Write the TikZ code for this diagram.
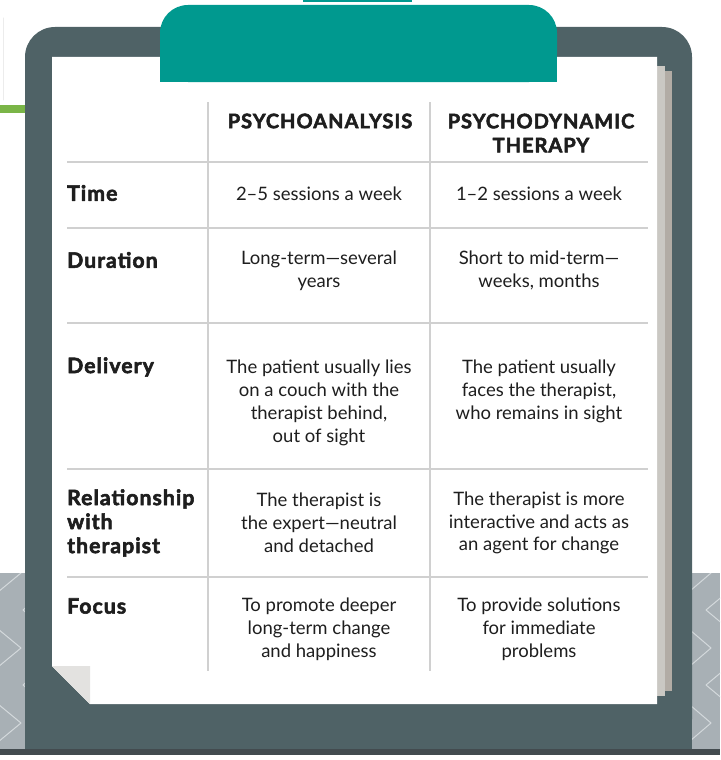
\documentclass[tikz,border=0pt]{standalone}
\usepackage{fontspec}
\setmainfont{Lato}
\newfontfamily\heavyfont[FakeBold=2.6, LetterSpace=5]{Lato}
\definecolor{boardgray}{HTML}{4F6266}
\definecolor{boardedge}{HTML}{434B4F}
\definecolor{tabteal}{HTML}{00998F}
\definecolor{bandgray}{HTML}{A8B0B5}
\definecolor{chevronline}{HTML}{D4D9DC}
\definecolor{sheetA}{HTML}{CAC8C3}
\definecolor{sheetB}{HTML}{B2ACA5}
\definecolor{foldgray}{HTML}{E3E2E0}
\definecolor{rulegray}{HTML}{D0D0D0}
\definecolor{leafgreen}{HTML}{7AB547}
\definecolor{inkblack}{HTML}{1E1E1E}
\begin{document}
\begin{tikzpicture}[x=1pt,y=-1pt, line join=round, line cap=round,
	head/.style={font=\heavyfont\bfseries\fontsize{20}{24}\selectfont, text=inkblack, align=center, inner sep=0pt},
	rowlabel/.style={font=\heavyfont\bfseries\fontsize{21.2}{24}\selectfont, text=inkblack, align=left, anchor=west, inner sep=0pt},
	cell/.style={font=\fontsize{18.5}{22.8}\selectfont, text=inkblack, align=center, inner sep=0pt},
	gridline/.style={rulegray, line width=2pt, line cap=butt}]
	\useasboundingbox (0,0) rectangle (720,760);
	
	% background bits
	\fill[tabteal] (303,0) rectangle (412,2);
	\fill[leafgreen] (0,105) rectangle (25,113);
	\draw[gray!15, line width=1pt] (3,18) -- (3,100);
	\fill[bandgray] (0,573) rectangle (25,749);
	\fill[bandgray] (692,573) rectangle (720,749);
	\begin{scope}
		\clip (0,573) rectangle (25,749);
		\foreach \y in {573,648,723}
		\draw[chevronline, line width=1pt] (-2,\y-19) -- (21,\y) -- (-2,\y+19);
		\foreach \y in {610,685}
		\draw[chevronline, line width=1pt] (45,\y-18) -- (23,\y) -- (45,\y+18);
	\end{scope}
	\begin{scope}
		\clip (692,573) rectangle (720,749);
		\foreach \y in {573,648,723}
		\draw[chevronline, line width=1pt] (690,\y-18) -- (711,\y) -- (690,\y+18);
		\foreach \y in {610,685}
		\draw[chevronline, line width=1pt] (730,\y-20) -- (706,\y) -- (730,\y+20);
	\end{scope}
	
	% clipboard
	\fill[boardgray, rounded corners=30] (25,27) rectangle (692,749);
	\fill[boardgray] (25,400) rectangle (692,749);
	\fill[boardedge] (0,749) rectangle (720,755);
	
	% sheets
	\fill[sheetB] (665,71) rectangle (672,691);
	\fill[sheetA] (657,66) rectangle (665,696);
	\fill[white] (52,57) -- (657,57) -- (657,704) -- (90,704) -- (52,666) -- cycle;
	\fill[foldgray] (52,666) -- (90,666) -- (90,704) -- cycle;
	
	% clip tab
	\fill[tabteal, rounded corners=28] (160,5) rectangle (557,82);
	\fill[tabteal] (160,50) rectangle (557,82);
	
	% table rules
	\foreach \x in {208,430}
	\draw[gridline] (\x,102) -- (\x,671);
	\foreach \y in {162,228,323,469,577}
	\draw[gridline] (67,\y) -- (648,\y);
	
	\node[head] (psa) at (320,121) {PSYCHOANALYSIS};
	\node[head] (psd) at (541,133) {PSYCHODYNAMIC\\THERAPY};
	
	\node[rowlabel] (time) at (67,193) {Time};
	\node[rowlabel] (dur) at (67,260) {Duration};
	\node[rowlabel] (del) at (67,367) {Delivery};
	\node[rowlabel] (rel) at (67,523) {Relationship\\with\\therapist};
	\node[rowlabel] (foc) at (67,606) {Focus};
	
	\node[cell] (time1) at (319,194) {2–5 sessions a week};
	\node[cell] (time2) at (539,194) {1–2 sessions a week};
	\node[cell] (dur1) at (319,270.5) {Long-term—several\\years};
	\node[cell] (dur2) at (539,270.5) {Short to mid-term—\\weeks, months};
	\node[cell] (del1) at (319,403) {The patient usually lies\\on a couch with the\\therapist behind,\\out of sight};
	\node[cell] (del2) at (539,391.5) {The patient usually\\faces the therapist,\\who remains in sight};
	\node[cell] (rel1) at (319,523) {The therapist is\\the expert—neutral\\and detached};
	\node[cell] (rel2) at (539,523) {The therapist is more\\interactive and acts as\\an agent for change};
	\node[cell] (foc1) at (319,629.5) {To promote deeper\\long-term change\\and happiness};
	\node[cell] (foc2) at (539,629.5) {To provide solutions\\for immediate\\problems};
\end{tikzpicture}
\end{document}
